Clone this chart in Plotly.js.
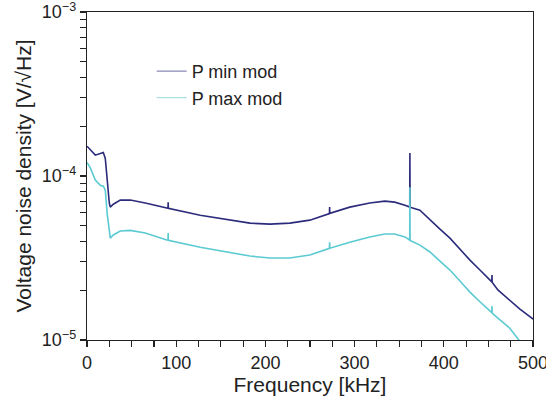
<!DOCTYPE html>
<html>
<head>
<meta charset="utf-8">
<script src="https://cdn.plot.ly/plotly-3.0.1.min.js"></script>
<style>html,body{margin:0;padding:0;background:#fff}#chart{width:546px;height:396px}</style>
</head>
<body>
<div id="chart"></div>
<script>
// Frequency grid [kHz] (spikes at ~91, 272, 362, 454 kHz)
const freq = [0, 3.7, 9.3, 14.9, 18.3, 20.5, 22.8, 25, 26.1, 29.5, 37.3, 48.5, 65.3, 89.5, 90.8, 91, 91.2,
  126.9, 155, 182.6, 205, 227.4, 249.8, 271.8, 272, 272.2, 294.6, 317, 333.8, 345, 356.4, 361.8, 362, 362.2,
  373.2, 384.5, 395.7, 406.9, 418.1, 429.3, 440.5, 451.7, 453.8, 454, 454.2, 460.6, 474, 485, 498.7, 500];

// P min mod [V/sqrt(Hz)]
const pMinMod = [1.52e-4, 1.44e-4, 1.34e-4, 1.37e-4, 1.39e-4, 1.28e-4, 8.79e-5, 6.84e-5, 6.46e-5, 6.73e-5, 7.13e-5, 7.13e-5, 6.84e-5, 6.40e-5, 6.36e-5, 6.91e-5, 6.35e-5,
  5.77e-5, 5.46e-5, 5.16e-5, 5.09e-5, 5.16e-5, 5.38e-5, 5.90e-5, 6.46e-5, 5.92e-5, 6.46e-5, 6.84e-5, 7.03e-5, 6.93e-5, 6.64e-5, 6.47e-5, 1.38e-4, 6.45e-5,
  6.19e-5, 5.38e-5, 4.74e-5, 4.18e-5, 3.58e-5, 3.07e-5, 2.67e-5, 2.32e-5, 2.26e-5, 2.49e-5, 2.25e-5, 2.02e-5, 1.75e-5, 1.55e-5, 1.36e-5, 1.34e-5];

// P max mod [V/sqrt(Hz)]
const pMaxMod = [1.21e-4, 1.12e-4, 9.46e-5, 8.79e-5, 8.67e-5, 8.20e-5, 5.77e-5, 4.49e-5, 4.18e-5, 4.37e-5, 4.62e-5, 4.66e-5, 4.49e-5, 4.07e-5, 4.06e-5, 4.49e-5, 4.05e-5,
  3.68e-5, 3.44e-5, 3.25e-5, 3.16e-5, 3.16e-5, 3.30e-5, 3.62e-5, 3.95e-5, 3.63e-5, 3.95e-5, 4.25e-5, 4.43e-5, 4.43e-5, 4.25e-5, 4.07e-5, 8.55e-5, 4.05e-5,
  3.79e-5, 3.44e-5, 3.03e-5, 2.67e-5, 2.29e-5, 1.96e-5, 1.71e-5, 1.50e-5, 1.47e-5, 1.61e-5, 1.46e-5, 1.36e-5, 1.18e-5, 9.86e-6, 8.2e-6, 8.1e-6];

const seriesNames = ['P min mod', 'P max mod'];
// x ticks every 25 kHz, labels every 100 kHz
const xTickVals = [0, 25, 50, 75, 100, 125, 150, 175, 200, 225, 250, 275, 300, 325, 350, 375, 400, 425, 450, 475, 500];
const xTickText = ['0', '', '', '', '100', '', '', '', '200', '', '', '', '300', '', '', '', '400', '', '', '', '500'];
// y ticks at 1..9 x decade, labels at decades
const yTickVals = [1e-5, 2e-5, 3e-5, 4e-5, 5e-5, 6e-5, 7e-5, 8e-5, 9e-5, 1e-4, 2e-4, 3e-4, 4e-4, 5e-4, 6e-4, 7e-4, 8e-4, 9e-4, 1e-3];
const yTickText = ['10<sup>−5</sup>', '', '', '', '', '', '', '', '', '10<sup>−4</sup>', '', '', '', '', '', '', '', '', '10<sup>−3</sup>'];

const font = 'Liberation Sans, Arial, sans-serif';
const darkC = '#2c2b7c', cyanC = '#5ccad2';
const axC = '#222';

const traces = [
  {x: freq, y: pMinMod, type: 'scatter', mode: 'lines', line: {color: darkC, width: 1.6}, showlegend: false, hoverinfo: 'skip'},
  {x: freq, y: pMaxMod, type: 'scatter', mode: 'lines', line: {color: cyanC, width: 1.6}, showlegend: false, hoverinfo: 'skip'},
  {x: [null], y: [null], type: 'scatter', mode: 'lines', name: seriesNames[0], line: {color: '#8a89b8', width: 1.2}},
  {x: [null], y: [null], type: 'scatter', mode: 'lines', name: seriesNames[1], line: {color: '#a6e2e6', width: 1.2}}
];

const layout = {
  width: 546, height: 396,
  margin: {l: 87, r: 13, t: 12, b: 56},
  paper_bgcolor: '#fff', plot_bgcolor: '#fff',
  font: {family: font, color: '#222'},
  showlegend: true,
  legend: {x: 0.145, y: 0.875, xanchor: 'left', yanchor: 'top', bgcolor: 'rgba(0,0,0,0)', font: {size: 18, family: font, color: '#222'}, tracegroupgap: 0},
  xaxis: {
    range: [0, 500], tickmode: 'array', tickvals: xTickVals, ticktext: xTickText,
    ticks: 'outside', ticklen: 6, tickwidth: 1.2, tickcolor: axC,
    showline: true, linecolor: axC, linewidth: 1.2, mirror: true,
    showgrid: false, zeroline: false, ticklabeloverflow: 'allow',
    tickfont: {size: 18, family: font, color: '#222'},
    title: {text: 'Frequency [kHz]', font: {size: 21, family: font, color: '#222'}}
  },
  yaxis: {
    type: 'log', range: [-5, -3], tickmode: 'array', tickvals: yTickVals, ticktext: yTickText,
    ticks: 'outside', ticklen: 6, tickwidth: 1.2, tickcolor: axC,
    showline: true, linecolor: axC, linewidth: 1.2, mirror: true,
    showgrid: false, zeroline: false, ticklabeloverflow: 'allow', automargin: 'left',
    tickfont: {size: 18, family: font, color: '#222'},
    title: {text: 'Voltage noise density [V/√Hz]', font: {size: 21, family: font, color: '#222'}, standoff: 4}
  }
};

Plotly.newPlot('chart', traces, layout, {staticPlot: true, displayModeBar: false});
</script>
</body>
</html>
